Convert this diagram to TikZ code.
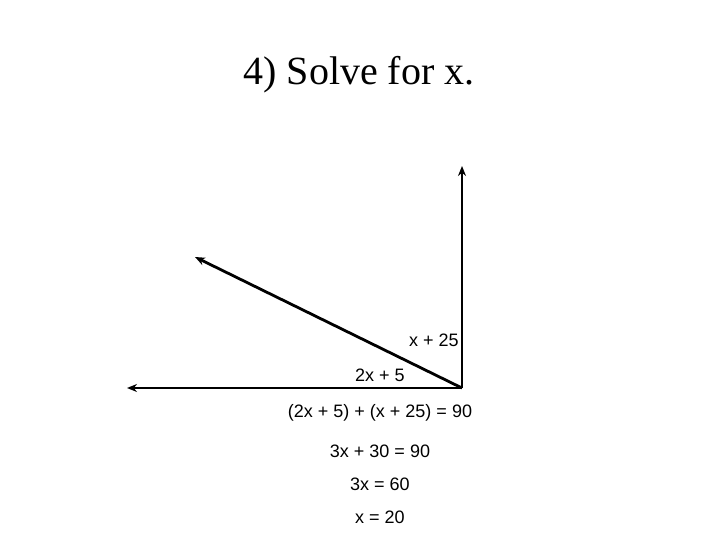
\documentclass[tikz,border=0pt]{standalone}
\usepackage{fontspec}
\setmainfont{Liberation Serif}
\setsansfont{Liberation Sans}
\usetikzlibrary{arrows.meta}
\begin{document}
\begin{tikzpicture}[x=1pt,y=-1pt,
  ray/.style={line width=2.8pt,-{Stealth[length=10pt,width=8pt]}},
  lbl/.style={font=\sffamily\fontsize{18}{18}\selectfont,inner sep=0pt}]
\useasboundingbox (0,0) rectangle (720,540);
\node[font=\fontsize{40}{40}\selectfont,anchor=base,inner sep=0pt] (title) at (359,85) {4) Solve for x.};
\coordinate (v) at (462,388);
\coordinate (up) at (462,166);
\coordinate (obl) at (195,257);
\coordinate (left) at (127,388);
\draw[ray] (v) -- (up);
\draw[ray] (v) -- (obl);
\draw[ray] (v) -- (left);
\node[lbl] (a) at (434,340) {x + 25};
\node[lbl] (b) at (380,375) {2x + 5};
\node[lbl] (e1) at (380,413) {(2x + 5) + (x + 25) = 90};
\node[lbl] (e2) at (380,451) {3x + 30 = 90};
\node[lbl] (e3) at (380,484) {3x = 60};
\node[lbl] (e4) at (380,517) {x = 20};
\end{tikzpicture}
\end{document}
